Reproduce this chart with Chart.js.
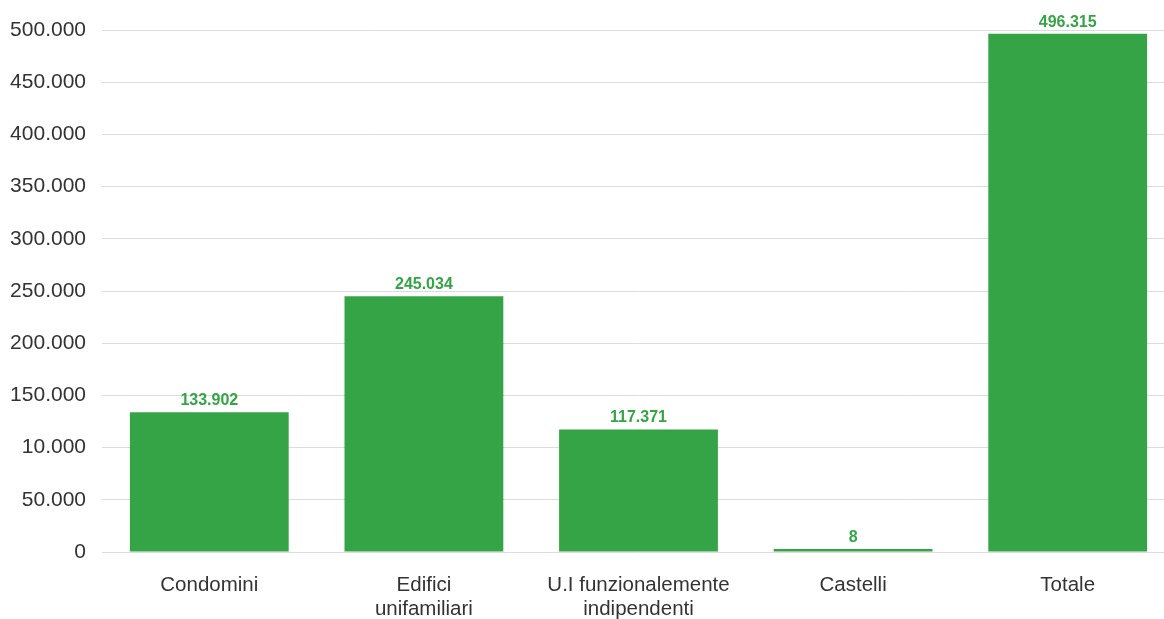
<!DOCTYPE html>
<html>
<head>
<meta charset="utf-8">
<script src="https://cdn.jsdelivr.net/npm/chart.js@4/dist/chart.umd.min.js"></script>
<style>
  html, body { margin: 0; padding: 0; background: #fff; overflow: hidden; }
  #wrap { width: 1175px; height: 619px; }
</style>
</head>
<body>
<div id="wrap"><canvas id="chart"></canvas></div>
<script>
const categories = [
    'Condomini',
    ['Edifici', 'unifamiliari'],
    ['U.I funzionalemente', 'indipendenti'],
    'Castelli',
    'Totale'
];
const values = [133902, 245034, 117371, 8, 496315];
const valueLabels = ['133.902', '245.034', '117.371', '8', '496.315'];
// tick labels as printed on the reference (including its "10.000")
const yTickLabels = ['0', '50.000', '10.000', '150.000', '200.000', '250.000',
                     '300.000', '350.000', '400.000', '450.000', '500.000'];

const green = '#35a447';

const ctx = document.getElementById('chart').getContext('2d');

new Chart(ctx, {
    type: 'bar',
    data: {
        labels: categories,
        datasets: [{
            data: values,
            backgroundColor: green,
            borderWidth: 0,
            barPercentage: 0.74,
            categoryPercentage: 1,
            minBarLength: 3
        }]
    },
    options: {
        responsive: true,
        maintainAspectRatio: false,
        animation: false,
        layout: {
            padding: { top: 30, right: 0, bottom: 0, left: 0 }
        },
        plugins: {
            legend: { display: false },
            tooltip: { enabled: false }
        },
        scales: {
            x: {
                grid: { display: false, drawTicks: false },
                border: { display: false },
                ticks: {
                    color: '#333',
                    padding: 21,
                    font: { family: 'Liberation Sans', size: 20.5, lineHeight: 1.17 },
                    maxRotation: 0,
                    autoSkip: false
                },
                afterFit: function(scale) { scale.height = 67; }
            },
            y: {
                min: 0,
                max: 500000,
                grid: { color: '#dcdcdc', lineWidth: 1, drawTicks: false },
                border: { display: false },
                ticks: {
                    stepSize: 50000,
                    color: '#333',
                    padding: 16,
                    font: { family: 'Liberation Sans', size: 21 },
                    callback: function(value, index) {
                        return yTickLabels[index];
                    }
                },
                afterFit: function(scale) { scale.width = 102; }
            }
        }
    },
    plugins: [{
        // value labels above each bar
        id: 'valueLabels',
        afterDatasetsDraw: function(chart) {
            const c = chart.ctx;
            const meta = chart.getDatasetMeta(0);
            c.save();
            c.fillStyle = green;
            c.font = 'bold 16px "Liberation Sans"';
            c.textAlign = 'center';
            c.textBaseline = 'alphabetic';
            meta.data.forEach(function(bar, i) {
                c.fillText(valueLabels[i], bar.x, bar.y - 7);
            });
            c.restore();
        }
    }]
});
</script>
</body>
</html>
